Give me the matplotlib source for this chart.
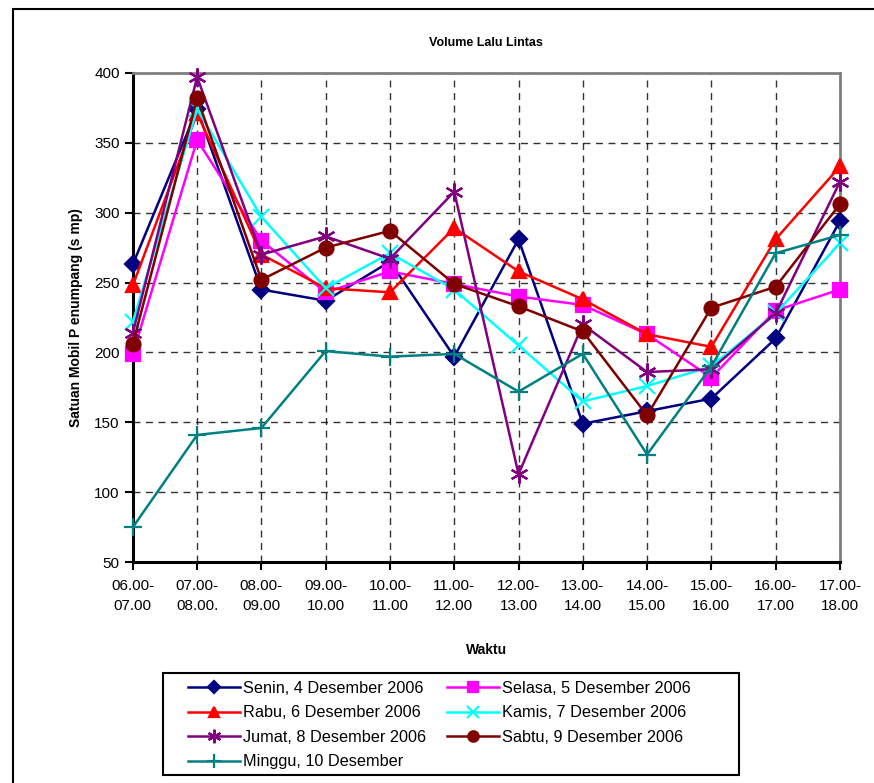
import numpy as np
import matplotlib
matplotlib.use("Agg")
import matplotlib.pyplot as plt
from matplotlib.patches import Rectangle

plt.rcParams['font.family'] = ['Liberation Sans', 'DejaVu Sans']

# jam pengamatan
waktu = ['06.00-\n07.00', '07.00-\n08.00.', '08.00-\n09.00', '09.00-\n10.00',
         '10.00-\n11.00', '11.00-\n12.00', '12.00-\n13.00', '13.00-\n14.00',
         '14.00-\n15.00', '15.00-\n16.00', '16.00-\n17.00', '17.00-\n18.00']

# volume (smp) per hari
senin = [263, 374, 245, 237, 265, 197, 281, 149, 158, 167, 210, 294]
selasa = [199, 352, 280, 243, 258, 249, 240, 234, 213, 182, 230, 245]
rabu = [248, 371, 270, 246, 243, 289, 258, 238, 213, 204, 281, 333]
kamis = [222, 374, 297, 246, 271, 245, 205, 165, 176, 190, 228, 278]
jumat = [214, 397, 270, 283, 267, 315, 113, 220, 186, 188, 228, 322]
sabtu = [206, 382, 252, 275, 287, 249, 233, 215, 155, 232, 247, 306]
minggu = [75, 141, 146, 201, 197, 199, 172, 199, 127, 190, 271, 284]

labels = ['Senin, 4 Desember 2006', 'Selasa, 5 Desember 2006',
          'Rabu, 6 Desember 2006', 'Kamis, 7 Desember 2006',
          'Jumat, 8 Desember 2006', 'Sabtu, 9 Desember 2006',
          'Minggu, 10 Desember']
series = [senin, selasa, rabu, kamis, jumat, sabtu, minggu]
colors = ['#000080', '#FF00FF', '#FF0000', '#00FFFF', '#800080', '#800000', '#008080']
markers = ['D', 's', '^', 'x', (6, 2, 0), 'o', '+']
msizes = [8, 10, 10, 11, 13, 10, 13]

fig = plt.figure(figsize=(8.74, 7.83), dpi=100)
ax = fig.add_axes([0.152, 0.282, 0.809, 0.625])

x = np.arange(len(waktu))
lines = []
for y, lab, c, m, ms in zip(series, labels, colors, markers, msizes):
    ln, = ax.plot(x, y, color=c, marker=m, markersize=ms, linewidth=1.8,
                  markeredgewidth=1.6, label=lab, clip_on=False, zorder=3)
    lines.append(ln)

ax.set_xlim(0, len(waktu) - 1)
ax.set_ylim(50, 400)
ax.set_yticks(range(50, 401, 50))
ax.set_xticks(x)
ax.set_xticklabels(waktu, fontsize=11, linespacing=1.6)
ax.tick_params(axis='y', labelsize=11, direction='out', length=6, width=1.5)
ax.tick_params(axis='x', direction='out', length=6, width=1.5, pad=6)
ax.grid(True, color='black', linestyle=(0, (5, 4)), linewidth=1.0, alpha=0.8)

for s in ['left', 'bottom']:
    ax.spines[s].set_linewidth(2.2)
    ax.spines[s].set_color('black')
for s in ['top', 'right']:
    ax.spines[s].set_linewidth(2)
    ax.spines[s].set_color('#808080')

ax.set_title('Volume Lalu Lintas', fontsize=9, fontweight='bold', pad=19)
ax.set_xlabel('Waktu', fontsize=10, fontweight='bold', labelpad=21)
ax.set_ylabel('Satuan Mobil P enumpang (s mp)', fontsize=10, fontweight='bold', labelpad=8)

# legenda dua kolom, urut per baris; bingkai digambar terpisah
order = [0, 2, 4, 6, 1, 3, 5]
leg = fig.legend([lines[i] for i in order], [labels[i] for i in order],
                 ncol=2, loc='upper left', bbox_to_anchor=(0.2151, 0.1303),
                 fontsize=11.7, frameon=False, markerscale=0.75,
                 handlelength=3.2, handletextpad=0.18, borderpad=0, borderaxespad=0,
                 labelspacing=0.58, columnspacing=1.3)
fig.patches.append(Rectangle((163 / 874, 1 - 775 / 783), 576 / 874, 102 / 783,
                             transform=fig.transFigure, fill=False,
                             edgecolor='black', linewidth=1.5))

# bingkai luar
fig.patches.append(Rectangle((12.5 / 874, -0.05), 1.1, 1.05 - 9.5 / 783,
                             transform=fig.transFigure, fill=False,
                             edgecolor='black', linewidth=1.5))

fig.savefig('out.png', dpi=100)
